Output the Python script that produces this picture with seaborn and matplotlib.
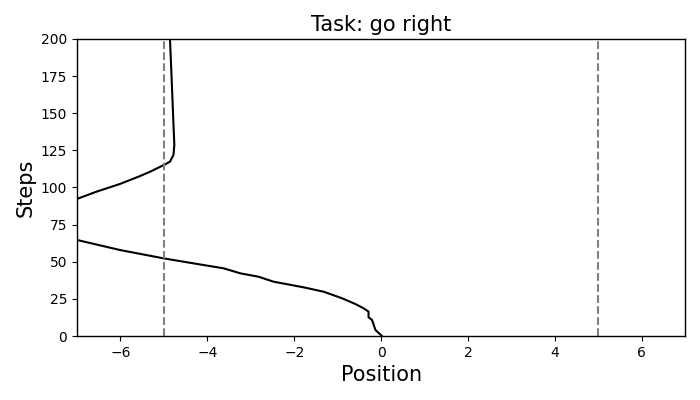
import pandas as pd
import seaborn as sns
from matplotlib import pyplot as plt

# trajectory, split where it leaves the plotted range
steps_a = [0, 4, 10.8, 12.6, 16.4, 18.6, 21.5, 25.4, 29.8, 32.8, 36.6, 39.9,
           42.2, 45.6, 47.8, 52.3, 57.9, 64.6]
pos_a = [0.02, -0.13, -0.21, -0.29, -0.29, -0.40, -0.59, -0.90, -1.32, -1.79,
         -2.48, -2.82, -3.24, -3.63, -4.09, -5.01, -6.01, -6.99]

steps_b = [92.3, 97.2, 102.4, 107.7, 110.6, 115.6, 117.4, 121.9, 128.6, 150,
           179, 200]
pos_b = [-7.0, -6.55, -6.01, -5.55, -5.32, -4.97, -4.86, -4.78, -4.76, -4.79,
         -4.83, -4.86]

bounds = [-5, 5]

df = pd.concat([
    pd.DataFrame({"Position": pos_a, "Steps": steps_a, "seg": 0}),
    pd.DataFrame({"Position": pos_b, "Steps": steps_b, "seg": 1}),
])

sns.set_style("ticks")
plt.rcParams["font.family"] = ["DejaVu Sans"]
for k in ["text.color", "axes.labelcolor", "xtick.color", "ytick.color"]:
    plt.rcParams[k] = "black"

fig = plt.figure(figsize=(7, 4), dpi=100)
ax = fig.add_axes([0.11, 0.16, 0.869, 0.7425])

sns.lineplot(data=df, x="Position", y="Steps", units="seg", estimator=None,
             sort=False, color="black", linewidth=1.5, ax=ax)
for b in bounds:
    ax.axvline(b, color="gray", linestyle="--", linewidth=1.5)

ax.set_xlim(-7, 7)
ax.set_ylim(0, 200)
ax.set_xticks([-6, -4, -2, 0, 2, 4, 6])
ax.set_yticks(range(0, 201, 25))
ax.set_title("Task: go right", fontsize=15)
ax.set_xlabel("Position", fontsize=15)
ax.set_ylabel("Steps", fontsize=15)
ax.tick_params(labelsize=10, direction="out", length=3.5)
for s in ax.spines.values():
    s.set_visible(True)
    s.set_color("black")
    s.set_linewidth(1)

plt.savefig("out.png", dpi=100)
